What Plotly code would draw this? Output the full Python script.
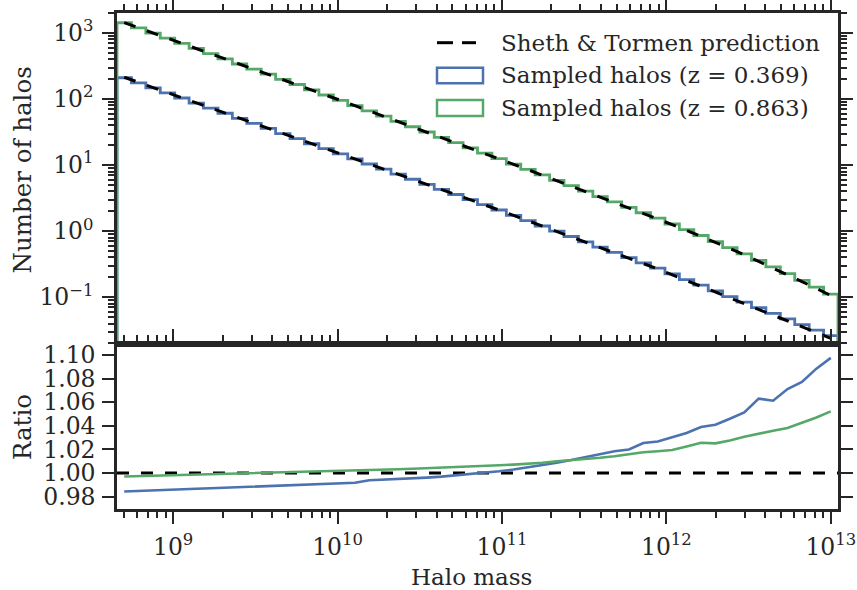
import numpy as np
import plotly.graph_objects as go

# ---------------- data ----------------
LOG_M_MIN = 8.6586      # log10 of lowest bin edge
LOG_M_MAX = 13.0437     # log10 of highest bin edge
N_BINS = 50

# Sheth & Tormen predicted number of halos per bin
pred_z0369 = [213.8, 179.1, 150.0, 125.6, 105.2, 88.1, 73.8, 61.8, 51.8, 43.4,
              36.3, 30.4, 25.5, 21.3, 17.9, 14.9, 12.5, 10.47, 8.75, 7.33,
              6.14, 5.13, 4.30, 3.60, 3.01, 2.52, 2.09, 1.73, 1.44, 1.19,
              0.991, 0.822, 0.681, 0.565, 0.469, 0.389, 0.323, 0.268, 0.219, 0.179,
              0.147, 0.120, 0.0980, 0.0802, 0.0655, 0.0536, 0.0438, 0.0358, 0.0292, 0.0239]
pred_z0863 = [1435, 1200, 1002, 837, 700, 585, 488, 407, 340, 284,
              238, 199, 166, 138, 115, 95.5, 79.4, 66.1, 55.0, 45.7,
              38.0, 31.6, 26.2, 21.8, 18.2, 15.1, 12.5, 10.3, 8.53, 7.06,
              5.83, 4.83, 3.99, 3.30, 2.74, 2.26, 1.87, 1.55, 1.26, 1.03,
              0.839, 0.679, 0.547, 0.439, 0.350, 0.278, 0.220, 0.173, 0.136, 0.106]

# Ratio sampled / predicted per bin
ratio_z0369 = [0.9844, 0.9850, 0.9855, 0.9860, 0.9864, 0.9868, 0.9872, 0.9876, 0.9880, 0.9884,
               0.9888, 0.9892, 0.9896, 0.9900, 0.9905, 0.9910, 0.9918, 0.9940, 0.9944, 0.9949,
               0.9955, 0.9962, 0.9970, 0.9980, 0.9990, 1.0002, 1.0015, 1.0030, 1.0048, 1.0068,
               1.0088, 1.0110, 1.0135, 1.0160, 1.0185, 1.0200, 1.0254, 1.0268, 1.0305, 1.0339,
               1.0390, 1.0410, 1.0460, 1.0514, 1.0630, 1.0613, 1.0712, 1.0771, 1.0884, 1.0975]
ratio_z0863 = [0.9971, 0.9974, 0.9977, 0.9980, 0.9983, 0.9986, 0.9990, 0.9993, 0.9996, 0.9999,
               1.0002, 1.0005, 1.0008, 1.0011, 1.0015, 1.0018, 1.0021, 1.0025, 1.0029, 1.0033,
               1.0037, 1.0041, 1.0045, 1.0050, 1.0055, 1.0060, 1.0066, 1.0072, 1.0079, 1.0088,
               1.0100, 1.0108, 1.0118, 1.0130, 1.0143, 1.0160, 1.0176, 1.0185, 1.0195, 1.0226,
               1.0257, 1.0252, 1.0276, 1.0308, 1.0330, 1.0358, 1.0381, 1.0424, 1.0471, 1.0522]

legend_labels = ["Sheth & Tormen prediction", "Sampled halos (z = 0.369)", "Sampled halos (z = 0.863)"]

x_tick_vals = [1e9, 1e10, 1e11, 1e12, 1e13]
x_tick_text = ["10<sup>9</sup>", "10<sup>10</sup>", "10<sup>11</sup>", "10<sup>12</sup>", "10<sup>13</sup>"]
y_tick_vals = [0.1, 1, 10, 100, 1000]
y_tick_text = ["10<sup>\u22121</sup>", "10<sup>0</sup>", "10<sup>1</sup>", "10<sup>2</sup>", "10<sup>3</sup>"]
r_tick_vals = [0.98, 1.00, 1.02, 1.04, 1.06, 1.08, 1.10]
r_tick_text = ["0.98", "1.00", "1.02", "1.04", "1.06", "1.08", "1.10"]

# ---------------- styling ----------------
BLUE = "#4c72b0"
GREEN = "#55a868"
DARK = "#262626"
FONT = "DejaVu Serif"
W, H = 857, 590
ML, MR, MT, MB = 117, 19, 13, 81
PW, PH = W - ML - MR, H - MT - MB
SPLIT = (509 - 343.5) / PH     # panel boundary in paper coordinates
HIST_BASE = 1e-4               # histogram floor (below visible range)
TICK_FS = 23.5
LEG_FS = 23
XT_FS = 23
YT_FS = 24.5

def px_x(X):
    return (X - ML) / PW

def px_y(Y):
    return (H - MB - Y) / PH

edges = np.logspace(LOG_M_MIN, LOG_M_MAX, N_BINS + 1)
centers = np.sqrt(edges[:-1] * edges[1:])

def step_xy(values):
    xs = [edges[0]] + list(edges) + [edges[-1]]
    ys = [HIST_BASE] + list(values) + [values[-1], HIST_BASE]
    return xs, ys

samp_z0369 = np.array(pred_z0369) * np.array(ratio_z0369)
samp_z0863 = np.array(pred_z0863) * np.array(ratio_z0863)

fig = go.Figure()

for samp, col in [(samp_z0369, BLUE), (samp_z0863, GREEN)]:
    xs, ys = step_xy(samp)
    fig.add_trace(go.Scatter(x=xs, y=ys, mode="lines", line=dict(color=col, width=2.8, shape="hv"),
                             xaxis="x", yaxis="y", showlegend=False, hoverinfo="skip"))
for pred in [pred_z0369, pred_z0863]:
    fig.add_trace(go.Scatter(x=centers, y=pred, mode="lines",
                             line=dict(color="black", width=3, dash="12px,12px"),
                             xaxis="x", yaxis="y", showlegend=False, hoverinfo="skip"))

# ratio panel
fig.add_trace(go.Scatter(x=[edges[0], edges[-1]], y=[1.0, 1.0], mode="lines",
                         line=dict(color="black", width=3, dash="12px,12px"),
                         xaxis="x2", yaxis="y2", showlegend=False, hoverinfo="skip"))
for r, col in [(ratio_z0369, BLUE), (ratio_z0863, GREEN)]:
    fig.add_trace(go.Scatter(x=centers, y=r, mode="lines", line=dict(color=col, width=2.6),
                             xaxis="x2", yaxis="y2", showlegend=False, hoverinfo="skip"))

def minor_vals(e0, e1, lo, hi):
    out = []
    for e in range(e0, e1):
        for k in range(2, 10):
            v = k * 10.0 ** e
            if lo <= v <= hi:
                out.append(v)
    return out

x_minor = minor_vals(8, 14, edges[0], edges[-1])
Y_LOG_RANGE = [-1.700, 3.303]
y_minor = minor_vals(-2, 4, 10 ** Y_LOG_RANGE[0], 10 ** Y_LOG_RANGE[1])

axis_common = dict(showgrid=False, zeroline=False, showline=True, linecolor=DARK, linewidth=2.5,
                   ticks="outside", ticklen=12, tickwidth=2, tickcolor=DARK,
                   tickfont=dict(family=FONT, size=TICK_FS, color=DARK))
minor_common = dict(ticks="outside", ticklen=6, tickwidth=1.5, tickcolor=DARK, tickmode="array")

fig.update_layout(
    width=W, height=H,
    margin=dict(l=ML, r=MR, t=MT, b=MB, autoexpand=False),
    paper_bgcolor="white", plot_bgcolor="white",
    font=dict(family=FONT, size=22, color=DARK),
    xaxis=dict(type="log", range=[LOG_M_MIN, LOG_M_MAX], domain=[0, 1], anchor="y", side="top",
               mirror=True, tickmode="array", tickvals=x_tick_vals, showticklabels=False,
               minor=dict(tickvals=x_minor, **minor_common),
               **axis_common),
    yaxis=dict(type="log", range=Y_LOG_RANGE, domain=[SPLIT, 1], anchor="x",
               mirror="ticks", tickmode="array", tickvals=y_tick_vals, ticktext=y_tick_text,
               ticklabelstandoff=4,
               minor=dict(tickvals=y_minor, **minor_common),
               **axis_common),
    xaxis2=dict(type="log", range=[LOG_M_MIN, LOG_M_MAX], domain=[0, 1], anchor="y2",
                mirror="ticks", tickmode="array", tickvals=x_tick_vals, ticktext=x_tick_text,
                ticklabelstandoff=3,
                minor=dict(tickvals=x_minor, **minor_common),
                **axis_common),
    yaxis2=dict(range=[0.9696, 1.1097], domain=[0, SPLIT], anchor="x2",
                mirror="ticks", tickmode="array", tickvals=r_tick_vals, ticktext=r_tick_text,
                ticklabelstandoff=2,
                **axis_common),
)

# axis titles
fig.add_annotation(text="Number of halos", xref="paper", yref="paper", x=px_x(22), y=px_y(170.5),
                   xanchor="center", yanchor="middle", textangle=-90, showarrow=False,
                   font=dict(family=FONT, size=YT_FS, color=DARK))
fig.add_annotation(text="Ratio", xref="paper", yref="paper", x=px_x(22), y=px_y(427),
                   xanchor="center", yanchor="middle", textangle=-90, showarrow=False,
                   font=dict(family=FONT, size=YT_FS, color=DARK))
fig.add_annotation(text="Halo mass", xref="paper", yref="paper", x=px_x(471), y=px_y(577),
                   xanchor="center", yanchor="middle", showarrow=False,
                   font=dict(family=FONT, size=XT_FS, color=DARK))

# manual legend
for (a, b) in [(437, 453), (462, 476)]:
    fig.add_shape(type="line", xref="paper", yref="paper", x0=px_x(a), x1=px_x(b),
                  y0=px_y(42.7), y1=px_y(42.7), line=dict(color="black", width=3))
for (y0, y1, col) in [(67.7, 83.3, BLUE), (100, 116, GREEN)]:
    fig.add_shape(type="rect", xref="paper", yref="paper", x0=px_x(437), x1=px_x(483),
                  y0=px_y(y1), y1=px_y(y0), line=dict(color=col, width=2.5),
                  fillcolor="rgba(0,0,0,0)")
for lab, yc in zip(legend_labels, [43, 75.5, 108]):
    fig.add_annotation(text=lab, xref="paper", yref="paper", x=px_x(499), y=px_y(yc),
                       xanchor="left", yanchor="middle", showarrow=False,
                       font=dict(family=FONT, size=LEG_FS, color=DARK))

fig.write_html("out.html")
